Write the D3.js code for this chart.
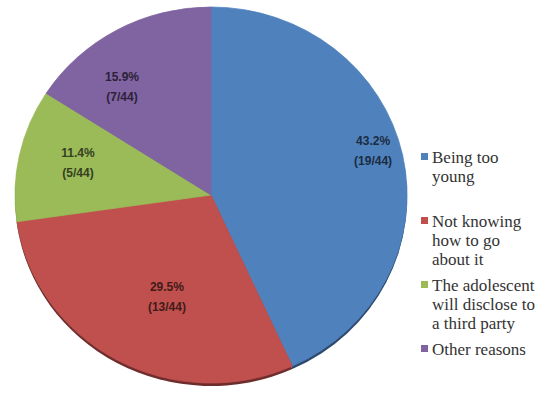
<!DOCTYPE html>
<html>
<head>
<meta charset="utf-8">
<script src="https://cdn.jsdelivr.net/npm/d3@7"></script>
</head>
<body style="margin:0">
<svg id="chart" width="543" height="393" style="display:block"></svg>
<script>
// ---- data ----
const categories = ["Being too young", "Not knowing how to go about it", "The adolescent will disclose to a third party", "Other reasons"];
const counts = [19, 13, 5, 7];
const total = 44;
const percentLabels = ["43.2%", "29.5%", "11.4%", "15.9%"];
const countLabels = ["(19/44)", "(13/44)", "(5/44)", "(7/44)"];

// ---- styling / layout (not data) ----
const colors = ["#4F81BD", "#C0504D", "#9BBB59", "#8064A2"];
const labelAngleShift = [-3.9, -5.9, 2.2, -9.4]; // degrees
const labelRadius = [0.861, 0.582, 0.701, 0.737];

const svg = d3.select("#chart");
const cx = 211, cy = 195, rx = 196, ry = 188;

const pie = d3.pie().sort(null).value(d => d);
const arcs = pie(counts);
const arc = d3.arc().innerRadius(0).outerRadius(1);

// shadow / rim layer
const rim = svg.append("g").attr("transform", `translate(${cx},${cy + 3}) scale(${rx},${ry})`);
rim.selectAll("path").data(arcs).join("path")
  .attr("d", arc)
  .attr("fill", (d, i) => d3.color(colors[i]).darker(1.6));

const g = svg.append("g").attr("transform", `translate(${cx},${cy}) scale(${rx},${ry})`);
g.selectAll("path").data(arcs).join("path")
  .attr("d", arc)
  .attr("fill", (d, i) => colors[i])
  .attr("stroke", (d, i) => colors[i])
  .attr("stroke-width", 0.004);

// labels
arcs.forEach((d, i) => {
  const mid = (d.startAngle + d.endAngle) / 2 + labelAngleShift[i] * Math.PI / 180;
  const x = cx + labelRadius[i] * rx * Math.sin(mid);
  const y = cy - labelRadius[i] * ry * Math.cos(mid);
  const col = d3.color(colors[i]).darker(3).formatHex();
  [percentLabels[i], countLabels[i]].forEach((s, k) => {
    svg.append("text")
      .attr("x", x).attr("y", y - 5 + k * 20)
      .attr("text-anchor", "middle")
      .attr("font-family", "Liberation Sans")
      .attr("font-weight", "bold")
      .attr("font-size", 12)
      .attr("fill", col)
      .text(s);
  });
});

// legend
const lx = 421, ly0 = 157, step = 64, lineH = 19;
const legendLines = [["Being too", "young"], ["Not knowing", "how to go", "about it"], ["The adolescent", "will disclose to", "a third party"], ["Other reasons"]];
categories.forEach((c, i) => {
  const y = ly0 + i * step;
  svg.append("rect")
    .attr("x", lx).attr("y", y - 4)
    .attr("width", 7).attr("height", 7)
    .attr("fill", colors[i]);
  legendLines[i].forEach((s, k) => {
    svg.append("text")
      .attr("x", lx + 11).attr("y", y + 5.5 + k * lineH)
      .attr("font-family", "Liberation Serif")
      .attr("font-size", 17)
      .attr("fill", "#333")
      .text(s);
  });
});
</script>
</body>
</html>
